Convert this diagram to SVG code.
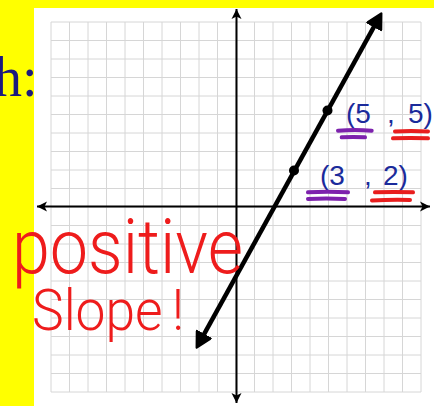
<svg xmlns="http://www.w3.org/2000/svg" width="434" height="406" viewBox="0 0 434 406">
  <style>
    .grid { stroke: #d6d6d6; stroke-width: 1; fill: none; }
    .axis { stroke: #000; stroke-width: 2; fill: none; }
    .mainline { stroke: #000; stroke-width: 4.5; fill: none; stroke-linecap: butt; }
    .dot { fill: #000; }
    .coord { font-family: "Liberation Sans", Arial, sans-serif; font-size: 28px; fill: #1b2b9b; }
    .ul-purple { stroke: #7d22ad; stroke-width: 4; stroke-linecap: round; fill: none; }
    .ul-red { stroke: #e81e1e; stroke-width: 4; stroke-linecap: round; fill: none; }
    .hand { font-family: Roboto, "Open Sans", "Liberation Sans", sans-serif; font-weight: 300; fill: #ee1c1c; }
  </style>
  <defs>
    <marker id="axisArrow" markerUnits="userSpaceOnUse" markerWidth="12" markerHeight="12" refX="10" refY="5" orient="auto-start-reverse" viewBox="0 0 12 10">
      <path d="M0,0 L10,5 L0,10 L2.5,5 z" fill="#000"/>
    </marker>
    <marker id="lineArrow" markerUnits="userSpaceOnUse" markerWidth="18" markerHeight="18" refX="9" refY="8" orient="auto-start-reverse" viewBox="0 0 16 16">
      <path d="M1,1 L14,8 L1,15 z" fill="#000" stroke="#000" stroke-width="2" stroke-linejoin="round"/>
    </marker>
  </defs>

  <g id="background">
    <rect x="0" y="0" width="434" height="406" fill="#ffff00"/>
    <rect x="34" y="8" width="400" height="398" fill="#ffffff"/>
  </g>

  <g id="grid" class="grid">
    <path d="M51,22V392 M69.5,22V392 M88,22V392 M106.5,22V392 M125,22V392 M143.5,22V392 M162,22V392 M180.5,22V392 M199,22V392 M217.5,22V392 M236,22V392 M254.5,22V392 M273,22V392 M291.5,22V392 M310,22V392 M328.5,22V392 M347,22V392 M365.5,22V392 M384,22V392 M402.5,22V392 M421,22V392"/>
    <path d="M51,22H421 M51,40.5H421 M51,59H421 M51,77.5H421 M51,96H421 M51,114.5H421 M51,133H421 M51,151.5H421 M51,170H421 M51,188.5H421 M51,207H421 M51,225.5H421 M51,244H421 M51,262.5H421 M51,281H421 M51,299.5H421 M51,318H421 M51,336.5H421 M51,355H421 M51,373.5H421 M51,392H421"/>
  </g>

  <g id="connectors">
    <line id="y-axis" class="axis" x1="236.5" y1="9" x2="236.5" y2="403" marker-start="url(#axisArrow)" marker-end="url(#axisArrow)"/>
    <line id="x-axis" class="axis" x1="37" y1="206.5" x2="430" y2="206.5" marker-start="url(#axisArrow)" marker-end="url(#axisArrow)"/>
    <line id="graph-line" class="mainline" x1="199.4" y1="342.6" x2="378.6" y2="18.4" marker-start="url(#lineArrow)" marker-end="url(#lineArrow)"/>
  </g>

  <g id="point-3-2">
    <circle class="dot" cx="294" cy="170.5" r="5"/>
    <text class="coord" x="320" y="185">(3</text>
    <text class="coord" x="364" y="185">,</text>
    <text class="coord" x="383" y="185">2)</text>
    <path class="ul-purple" d="M308,192.3 Q328,191 348,192.3 M308,199 Q326,198 345,199"/>
    <path class="ul-red" d="M375,192.3 Q394,191.5 413,192.3 M372,200.5 Q391,199.5 410,200"/>
  </g>

  <g id="point-5-5">
    <circle class="dot" cx="327.5" cy="110.5" r="5"/>
    <text class="coord" x="346" y="123">(5</text>
    <text class="coord" x="387" y="123">,</text>
    <text class="coord" x="408" y="123">5)</text>
    <path class="ul-purple" d="M338,130.7 Q355,129.5 371.7,130.7 M341.7,137.3 Q353,136.5 365,137.3"/>
    <path class="ul-red" d="M395,131.5 Q411,130.5 428,131.5 M393,138.3 Q410,137.5 428,138.3"/>
  </g>

  <g id="label-h">
    <text x="-6" y="96" font-family="'Liberation Serif', 'Times New Roman', serif" font-size="56" fill="#1c1a7d">h:</text>
  </g>

  <g id="annotation">
    <text class="hand" x="12" y="273" font-size="76" textLength="231" lengthAdjust="spacingAndGlyphs">positive</text>
    <text class="hand" x="32" y="330" font-size="58" textLength="152" lengthAdjust="spacingAndGlyphs">Slope<tspan dx="10">!</tspan></text>
  </g>
</svg>
